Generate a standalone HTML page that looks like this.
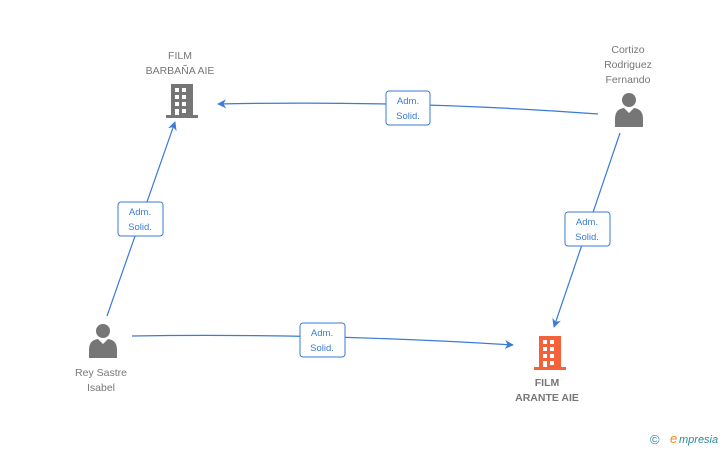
<!DOCTYPE html>
<html><head><meta charset="utf-8"><style>
html,body{margin:0;padding:0;background:#fff;width:728px;height:450px;overflow:hidden}
svg{display:block}
text{font-family:"Liberation Sans",sans-serif}
</style></head><body>
<svg width="728" height="450" viewBox="0 0 728 450" xmlns="http://www.w3.org/2000/svg">
<defs>
<marker id="ah" viewBox="0 0 10 10" refX="9" refY="5" markerWidth="9" markerHeight="9" orient="auto" markerUnits="userSpaceOnUse">
<path d="M0,0 L10,5 L0,10 L3,5 Z" fill="#3a7bd5"/>
</marker>
<g id="bld">
<rect x="5" y="0" width="22" height="31"/>
<rect x="0" y="31" width="32" height="3"/>
</g>
<g id="person">
<circle cx="0" cy="-7" r="7"/>
<path d="M-14,20 L-14,12 Q-14,2 -5,1 L0,6 L5,1 Q14,2 14,12 L14,20 Z"/>
</g>
</defs>
<g fill="none" stroke="#3a7bd5" stroke-width="1.2">
<path d="M598,114 Q410,100 218,104" marker-end="url(#ah)"/>
<path d="M107,316 L175,122" marker-end="url(#ah)"/>
<path d="M620,133 L554,327" marker-end="url(#ah)"/>
<path d="M132,336 Q320,333 513,345" marker-end="url(#ah)"/>
</g>
<g fill="#fff" stroke="#3a7bd5" stroke-width="1">
<rect x="386" y="91" width="44" height="34" rx="3"/>
<rect x="118" y="202" width="45" height="34" rx="3"/>
<rect x="565" y="212" width="45" height="34" rx="3"/>
<rect x="300" y="323" width="45" height="34" rx="3"/>
</g>
<g fill="#3a7bd5" font-size="9.5" text-anchor="middle">
<text x="408" y="104">Adm.</text><text x="408" y="119">Solid.</text>
<text x="140" y="215">Adm.</text><text x="140" y="230">Solid.</text>
<text x="587" y="225">Adm.</text><text x="587" y="240">Solid.</text>
<text x="322" y="336">Adm.</text><text x="322" y="351">Solid.</text>
</g>
<g fill="#767676" transform="translate(166,84)"><use href="#bld"/></g>
<g fill="#fff">
<rect x="175" y="88" width="4" height="4"/><rect x="182" y="88" width="4" height="4"/>
<rect x="175" y="95" width="4" height="4"/><rect x="182" y="95" width="4" height="4"/>
<rect x="175" y="102" width="4" height="4"/><rect x="182" y="102" width="4" height="4"/>
<rect x="175" y="109" width="4" height="6"/><rect x="182" y="109" width="4" height="4"/>
</g>
<g fill="#f4623a" transform="translate(534,336)"><use href="#bld"/></g>
<g fill="#fff">
<rect x="543" y="340" width="4" height="4"/><rect x="550" y="340" width="4" height="4"/>
<rect x="543" y="347" width="4" height="4"/><rect x="550" y="347" width="4" height="4"/>
<rect x="543" y="354" width="4" height="4"/><rect x="550" y="354" width="4" height="4"/>
<rect x="543" y="361" width="4" height="6"/><rect x="550" y="361" width="4" height="4"/>
</g>
<g fill="#767676">
<g transform="translate(629,107)"><use href="#person"/></g>
<g transform="translate(103,338)"><use href="#person"/></g>
</g>
<g fill="#777" font-size="10.5" text-anchor="middle">
<text x="180" y="59">FILM</text><text x="180" y="74">BARBAÑA AIE</text>
<text x="628" y="53">Cortizo</text><text x="628" y="68">Rodriguez</text><text x="628" y="83">Fernando</text>
<text x="101" y="376">Rey Sastre</text><text x="101" y="391">Isabel</text>
<text x="547" y="386" font-weight="bold">FILM</text><text x="547" y="401" font-weight="bold">ARANTE AIE</text>
</g>
<text x="650" y="444" font-size="13" fill="#2a8a9a">©</text>
<text x="670" y="443" font-size="13" font-style="italic" font-family="Liberation Serif,serif" fill="#f08a1c">e</text>
<text x="679" y="443" font-size="11" font-style="italic" fill="#2a8a9a">mpresia</text>
</svg>
</body></html>
